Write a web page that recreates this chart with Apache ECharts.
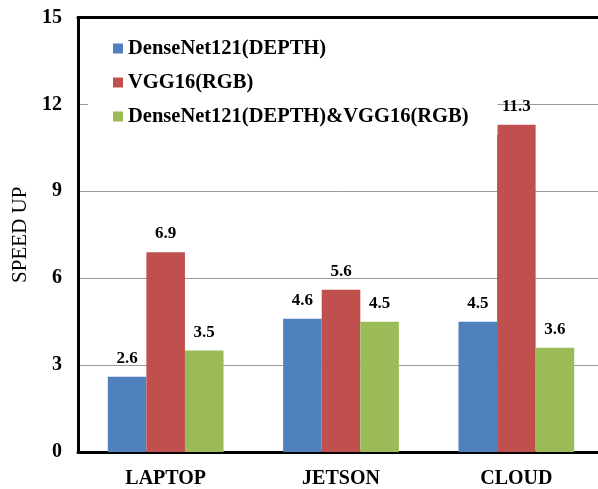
<!DOCTYPE html>
<html>
<head>
<meta charset="utf-8">
<script src="https://cdn.jsdelivr.net/npm/echarts@6/dist/echarts.min.js"></script>
<style>html,body{margin:0;padding:0;background:#fff}#c{width:598px;height:489px}</style>
</head>
<body>
<div id="c"></div>
<script>
const categories = ['LAPTOP', 'JETSON', 'CLOUD'];
const seriesNames = ['DenseNet121(DEPTH)', 'VGG16(RGB)', 'DenseNet121(DEPTH)&VGG16(RGB)'];
const densenetDepth = [2.6, 4.6, 4.5];
const vggRgb = [6.9, 5.6, 11.3];
const combined = [3.5, 4.5, 3.6];
const colors = ['#4F81BD', '#C0504D', '#9BBB59'];

const FONT = '"Liberation Serif", "Times New Roman", serif';
const chart = echarts.init(document.getElementById('c'), null, {renderer: 'canvas'});
const mk = (name, data, color) => ({
  name, type: 'bar', data,
  barGap: '0%', barCategoryGap: '34%',
  itemStyle: {color},
  label: {show: true, position: 'top', distance: 10, color: '#000',
    fontFamily: FONT, fontWeight: 'bold', fontSize: 17, formatter: p => p.value.toFixed(1)}
});
chart.setOption({
  animation: false,
  backgroundColor: '#fff',
  grid: {left: 78, top: 17.5, width: 526, bottom: 37, containLabel: false, outerBoundsMode: 'none'},
  legend: {
    orient: 'vertical', left: 88, top: 26,
    padding: [12, 29, 8, 25], itemGap: 13,
    itemWidth: 10, itemHeight: 10, icon: 'rect',
    backgroundColor: '#fff', z: 10,
    textStyle: {fontFamily: FONT, fontWeight: 'bold', fontSize: 20.5, color: '#000', lineHeight: 20.5},
    data: seriesNames
  },
  xAxis: [{
    type: 'category', data: categories, position: 'bottom',
    axisLine: {lineStyle: {color: '#000', width: 3}},
    axisTick: {show: false},
    axisLabel: {margin: 17, color: '#000', fontFamily: FONT, fontWeight: 'bold', fontSize: 20}
  }, {
    type: 'category', data: categories, position: 'top',
    axisLine: {show: true, lineStyle: {color: '#000', width: 3}},
    axisTick: {show: false}, axisLabel: {show: false}
  }],
  yAxis: {
    type: 'value', min: 0, max: 15, interval: 3,
    name: 'SPEED UP', nameLocation: 'middle', nameGap: 46, nameRotate: 90,
    nameTextStyle: {fontFamily: FONT, fontSize: 21, color: '#000'},
    axisLine: {show: true, lineStyle: {color: '#000', width: 3}},
    axisTick: {show: false},
    axisLabel: {margin: 16, color: '#000', fontFamily: FONT, fontWeight: 'bold', fontSize: 20},
    splitLine: {show: true, lineStyle: {color: '#999', width: 1}}
  },
  series: [
    mk(seriesNames[0], densenetDepth, colors[0]),
    mk(seriesNames[1], vggRgb, colors[1]),
    mk(seriesNames[2], combined, colors[2])
  ]
});
</script>
</body>
</html>
